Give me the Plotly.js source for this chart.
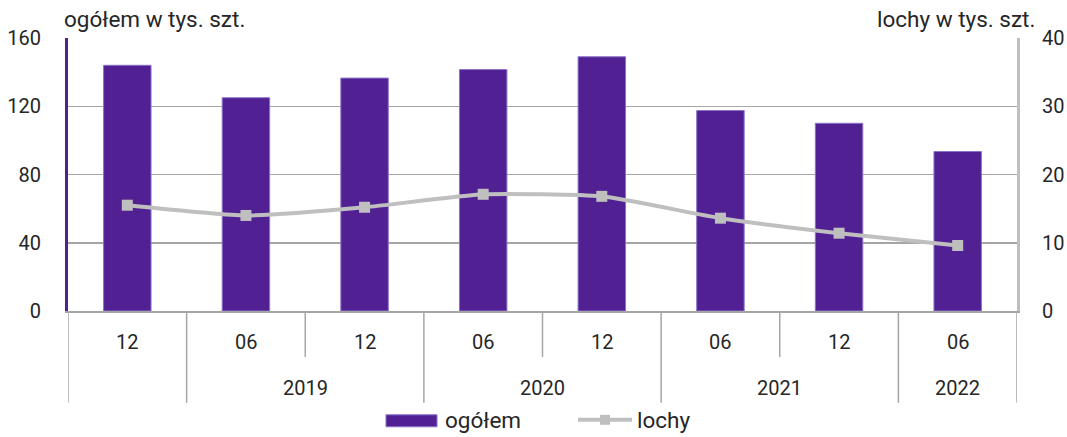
<!DOCTYPE html>
<html>
<head>
<meta charset="utf-8">
<script src="https://cdn.plot.ly/plotly-3.0.1.min.js"></script>
<style>html,body{margin:0;padding:0;background:#fff;}#chart{width:1067px;height:437px;}</style>
</head>
<body>
<div id="chart"></div>
<script>
// ---- data ----
const months = ["12", "06", "12", "06", "12", "06", "12", "06"];
const years = ["2018", "2019", "2019", "2020", "2020", "2021", "2021", "2022"];
const yearLabels = ["", "2019", "2019", "2020", "2020", "2021", "2021", "2022"];
const ogolem = [144, 125, 136.5, 141.5, 149, 117.5, 110, 93.5];
const lochy = [15.5, 14.0, 15.2, 17.1, 16.8, 13.6, 11.4, 9.6];
const seriesNames = ["ogółem", "lochy"];
const leftTitle = "ogółem w tys. szt.";
const rightTitle = "lochy w tys. szt.";

// ---- layout constants ----
const W = 1067, H = 437;
const M = {l: 68, r: 50, t: 37.5, b: 126};
const plotBottom = H - M.b, plotH = H - M.t - M.b;
const py = p => (plotBottom - p) / plotH;   // pixel y -> paper y
const px = p => (p - M.l) / (W - M.l - M.r); // pixel x -> paper x
const FONT = "Roboto, 'Open Sans', sans-serif";
const TXT = "#262626";
const PURPLE = "#512194";
const GREY = "#bfbfbf";
const TITLE_SIZE = 22.5;

const cats = years.map((y, i) => y + "-" + months[i]);

const traces = [
  {
    type: "bar", x: cats, y: ogolem, name: seriesNames[0],
    marker: {color: PURPLE, line: {color: "#8a72c8", width: 1}},
    hoverinfo: "x+y"
  },
  {
    type: "scatter", mode: "lines+markers", x: cats, y: lochy, name: seriesNames[1],
    yaxis: "y2",
    line: {color: GREY, width: 4, shape: "spline", smoothing: 0.5},
    marker: {symbol: "square", size: 11, color: GREY}
  }
];

const annotations = [];
const shapes = [];

// month labels
cats.forEach((c, i) => {
  annotations.push({xref: "x", yref: "paper", x: i, y: py(342), text: months[i],
    showarrow: false, xanchor: "center", yanchor: "middle", font: {family: FONT, size: 20, color: TXT}});
});
// year groups
let start = 0;
for (let i = 1; i <= yearLabels.length; i++) {
  if (i === yearLabels.length || yearLabels[i] !== yearLabels[start]) {
    if (yearLabels[start] !== "") {
      annotations.push({xref: "x", yref: "paper", x: (start + i - 1) / 2, y: py(388), text: yearLabels[start],
        showarrow: false, xanchor: "center", yanchor: "middle", font: {family: FONT, size: 20, color: TXT}});
    }
    start = i;
  }
}
// dividers
for (let i = 0; i <= cats.length; i++) {
  const full = (i === 0 || i === cats.length || yearLabels[i] !== yearLabels[i - 1]);
  shapes.push({type: "line", xref: "x", yref: "paper", x0: i - 0.5, x1: i - 0.5,
    y0: 0, y1: py(full ? 403 : 357), line: {color: "#a6a6a6", width: 1.5}});
}

// axis titles
annotations.push({xref: "paper", yref: "paper", x: px(62), y: py(18), text: leftTitle,
  showarrow: false, xanchor: "left", yanchor: "middle", font: {family: FONT, size: TITLE_SIZE, color: TXT}});
annotations.push({xref: "paper", yref: "paper", x: px(1037), y: py(18), text: rightTitle,
  showarrow: false, xanchor: "right", yanchor: "middle", font: {family: FONT, size: TITLE_SIZE, color: TXT}});

// custom legend
shapes.push({type: "rect", xref: "paper", yref: "paper", x0: px(386), x1: px(437), y0: py(427), y1: py(415),
  fillcolor: PURPLE, line: {color: "#8a72c8", width: 1}});
annotations.push({xref: "paper", yref: "paper", x: px(443), y: py(420), text: seriesNames[0], showarrow: false,
  xanchor: "left", yanchor: "middle", font: {family: FONT, size: TITLE_SIZE, color: TXT}});
shapes.push({type: "line", xref: "paper", yref: "paper", x0: px(578), x1: px(632), y0: py(420), y1: py(420),
  line: {color: GREY, width: 4}});
shapes.push({type: "rect", xref: "paper", yref: "paper", x0: px(600), x1: px(610), y0: py(425), y1: py(415),
  fillcolor: GREY, line: {width: 0}});
annotations.push({xref: "paper", yref: "paper", x: px(635), y: py(420), text: seriesNames[1], showarrow: false,
  xanchor: "left", yanchor: "middle", font: {family: FONT, size: TITLE_SIZE, color: TXT}});

const layout = {
  width: W, height: H,
  margin: M,
  paper_bgcolor: "#fff", plot_bgcolor: "#fff",
  showlegend: false,
  bargap: 0.6,
  font: {family: FONT, size: 20, color: TXT},
  xaxis: {type: "category", range: [-0.5, cats.length - 0.5], showticklabels: false, ticks: "",
    showgrid: false, showline: true, linecolor: "#a6a6a6", linewidth: 1.5, zeroline: false},
  yaxis: {range: [0, 160], dtick: 40, tick0: 0, showgrid: true, gridcolor: "#a6a6a6", gridwidth: 1.5,
    zeroline: false, showline: true, linecolor: PURPLE, linewidth: 3, ticks: "", ticklabelstandoff: 20,
    tickfont: {family: FONT, size: 20, color: TXT}},
  yaxis2: {range: [0, 40], dtick: 10, tick0: 0, overlaying: "y", side: "right", showgrid: false,
    zeroline: false, showline: true, linecolor: GREY, linewidth: 3, ticks: "", ticklabelstandoff: 18,
    tickfont: {family: FONT, size: 20, color: TXT}},
  annotations: annotations,
  shapes: shapes
};

Plotly.newPlot("chart", traces, layout, {displayModeBar: false, staticPlot: true});
</script>
</body>
</html>
